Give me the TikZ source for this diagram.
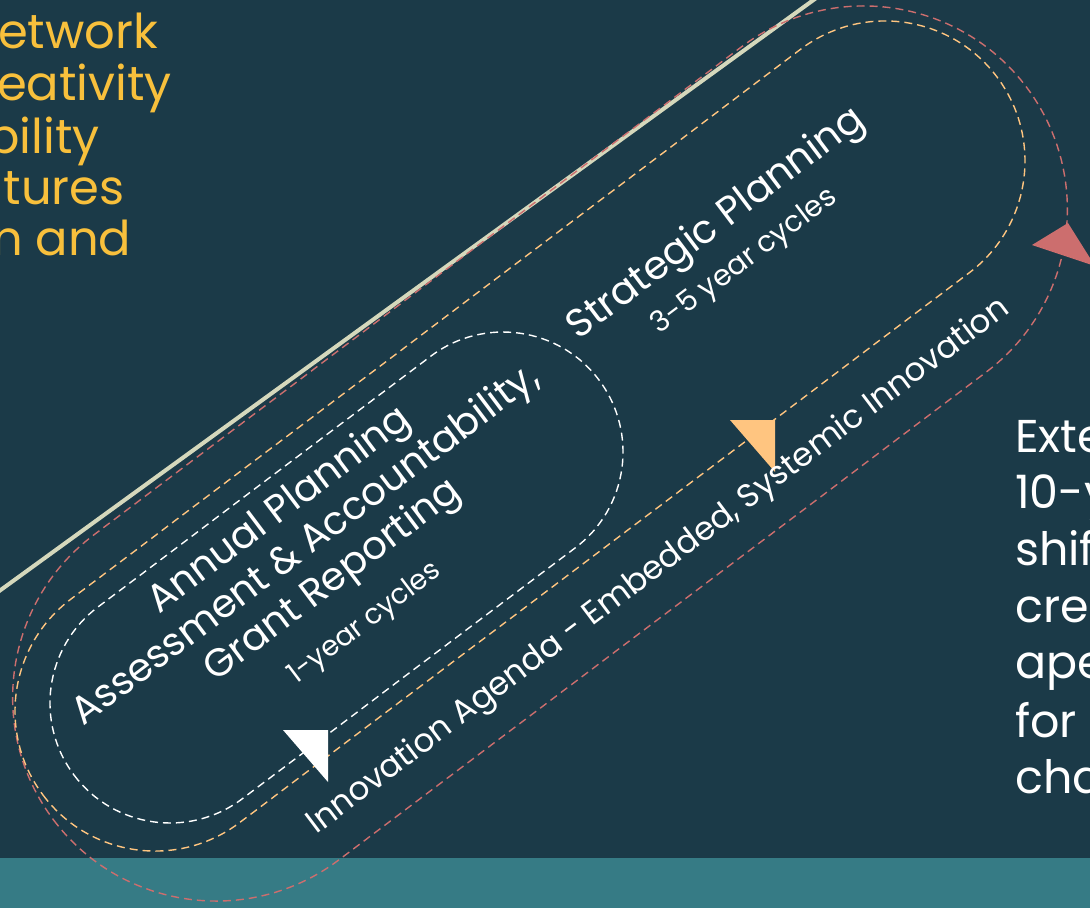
\documentclass[tikz,border=0pt]{standalone}
\usepackage{fontspec}
\setmainfont{Poppins}

\definecolor{bgdark}{HTML}{1B3A48}
\definecolor{bandteal}{HTML}{367B85}
\definecolor{beigeline}{HTML}{D5D8BC}
\definecolor{loopred}{HTML}{CC6E6E}
\definecolor{loopyellow}{HTML}{FFC580}
\definecolor{textyellow}{HTML}{F8C03C}

\begin{document}
\begin{tikzpicture}[x=1pt, y=-1pt,
    cycleloop/.style={line width=1.4pt, dash pattern=on 8pt off 5pt},
    looplabel/.style={text=white, rotate=37, inner sep=0pt, align=center}]

    \pgfmathsetmacro{\ang}{37}

    \useasboundingbox (0,0) rectangle (1090,908);
    \clip (0,0) rectangle (1090,908);

    % 背景
    \fill[bgdark] (0,0) rectangle (1090,908);
    \fill[bandteal] (0,858) rectangle (1090,908);

    % 斜めの線
    \draw[beigeline, line width=4pt] (-20,605) -- (830,-12);

    % 3つのループ
    \draw[cycleloop, loopred, rounded corners=203.5pt,
        rotate around={\ang:(540,453.5)}] (-69,250) rectangle (1149,657);
    \draw[cycleloop, loopyellow, rounded corners=140pt,
        rotate around={\ang:(520,436)}] (-77,296) rectangle (1117,576);
    \draw[cycleloop, white, rounded corners=120pt,
        rotate around={\ang:(336.5,577.5)}] (8,457.5) rectangle (665,697.5);

    % 矢印の三角形
    \fill[white] (283,730) -- (328,730) -- (328,782) -- cycle;
    \fill[loopyellow] (730,420) -- (775,420) -- (775,472) -- cycle;
    \fill[loopred] (1032,245) -- (1068,223) -- (1095,266) -- cycle;

    % ループのラベル
    \node[looplabel, font=\fontsize{39.5}{44}\selectfont] (strategic) at (729,241)
        {Strategic Planning\\\fontsize{29}{34}\selectfont 3-5 year cycles};
    \node[looplabel, font=\fontsize{39}{44}\selectfont] (annual) at (321,565)
        {Annual Planning\\Assessment \& Accountability,\\Grant Reporting\\[6pt]
         \fontsize{28}{34}\selectfont 1-year cycles};
    \node[looplabel, font=\fontsize{32.6}{40}\selectfont] (innovation) at (659,567)
        {Innovation Agenda - Embedded, Systemic Innovation};

    % 左上の文字
    \foreach \w/\dx/\by [count=\i] in {etwork/-2/48, eativity/-3/100,
        bility/-13/153, atures/-29/204, {n and}/-8/255} {
        \node[anchor=base west, inner sep=0pt, text=textyellow,
            font=\fontsize{48}{56}\selectfont] (left\i) at (\dx,\by) {\w};
    }

    % 右の文字
    \foreach \w/\by [count=\i] in {Exte/452, 10-y/508, shif/565, cre/622,
        ape/678, for/737, cha/793} {
        \node[anchor=base west, inner sep=0pt, text=white,
            font=\fontsize{46}{56}\selectfont] (right\i) at (1015,\by) {\w};
    }

\end{tikzpicture}
\end{document}
